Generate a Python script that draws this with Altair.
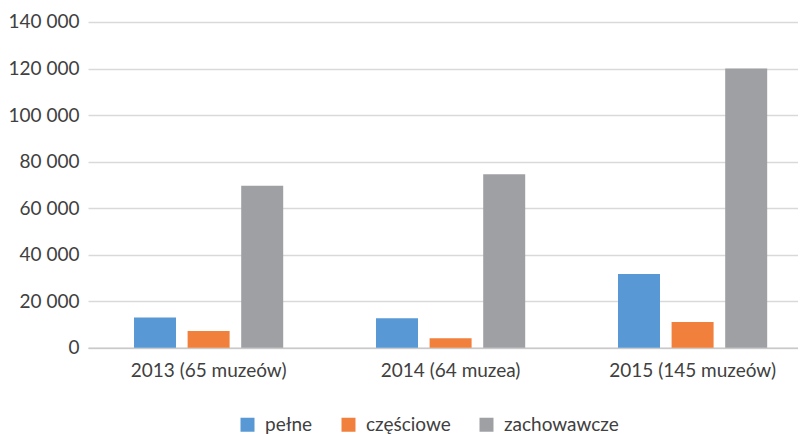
import altair as alt
import pandas as pd

years = ["2013 (65 muzeów)", "2014 (64 muzea)", "2015 (145 muzeów)"]
series = ["pełne", "częściowe", "zachowawcze"]
pelne = [13000, 12700, 31700]
czesciowe = [7200, 4100, 11000]
zachowawcze = [69600, 74600, 120000]
colors = ["#5898D4", "#F0803C", "#9EA0A4"]
y_ticks = [0, 20000, 40000, 60000, 80000, 100000, 120000, 140000]

rows = []
for name, vals in zip(series, [pelne, czesciowe, zachowawcze]):
    for yr, v in zip(years, vals):
        rows.append({"rok": yr, "seria": name, "wartosc": v})
df = pd.DataFrame(rows)

FONT = "Lato"
TXT = "#404040"

chart = alt.Chart(df).mark_bar().encode(
    x=alt.X("rok:N", sort=years, title=None,
            scale=alt.Scale(paddingInner=0.3835, paddingOuter=0.1587, align=0.599, round=False),
            axis=alt.Axis(labelAngle=0, ticks=False, tickSize=0, labelPadding=14,
                          domainColor="#c9c9c9", domainWidth=1.6,
                          labelFont=FONT, labelFontSize=19, labelColor=TXT)),
    xOffset=alt.XOffset("seria:N", sort=series,
                        scale=alt.Scale(paddingInner=0.2164, paddingOuter=0, round=False)),
    y=alt.Y("wartosc:Q", title=None,
            scale=alt.Scale(domain=[0, 140000], nice=False),
            axis=alt.Axis(values=y_ticks, ticks=False, tickSize=0, domain=False,
                          labelPadding=9, gridColor="#d9d9d9", gridWidth=1.3,
                          labelExpr="datum.value == 0 ? '0' : format(datum.value / 1000, 'd') + ' 000'",
                          labelFont=FONT, labelFontSize=19, labelColor=TXT)),
    color=alt.Color("seria:N", sort=series,
                    scale=alt.Scale(domain=series, range=colors),
                    legend=alt.Legend(title=None, orient="none", direction="horizontal",
                                      legendX=150, legendY=393,
                                      symbolType="square", symbolSize=196, symbolStrokeWidth=0,
                                      labelFont=FONT, labelFontSize=19, labelColor=TXT,
                                      labelOffset=8, columnPadding=26, padding=0)),
).properties(
    width=710,
    height=325.7,
    autosize=alt.AutoSizeParams(type="none"),
    padding={"left": 80, "top": 14, "right": 0, "bottom": 86},
).configure_view(stroke=None)

chart.save("out.html", embed_options={"renderer": "svg", "actions": False})
